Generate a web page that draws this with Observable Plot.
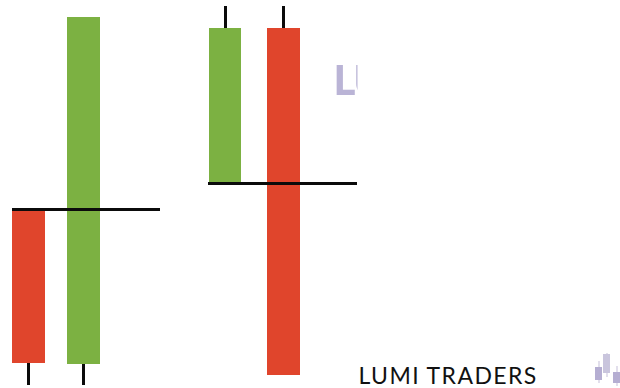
<!DOCTYPE html>
<html><head><meta charset="utf-8">
<script src="https://cdn.jsdelivr.net/npm/d3@7"></script>
<script src="https://cdn.jsdelivr.net/npm/@observablehq/plot@0.6"></script>
<style>html,body{margin:0;padding:0;background:#fff}svg{display:block}</style>
</head><body><div id="c"></div>
<script>
const green = "#7cb142", red = "#e0452c", ink = "#0b0b0b", faint = "#bab4d6";
// candle bodies (x position units; price = height from the bottom of the frame)
const bodyX1 = [12, 67, 209, 267];
const bodyX2 = [45, 100, 241, 300];
const bodyLow = [25, 24, 206, 13];
const bodyHigh = [179, 371, 360, 360];
const bodyColor = [red, green, green, red];
// wicks
const wickX = [28, 83, 225, 283];
const wickLow = [3, 3, 360, 360];
const wickHigh = [25, 24, 382, 382];
// reference lines
const levelX1 = [12, 208];
const levelX2 = [160, 357];
const level = [179, 205];
// small logo candles
const logoX1 = [595, 603, 613];
const logoX2 = [602, 610, 620];
const logoLow = [8, 15, 5];
const logoHigh = [21, 34, 16];
const logoWickX = [598.5, 606.5, 616.5];
const logoWickLow = [5, 11, 2];
const logoWickHigh = [27, 35, 22];
const logoColor = ["#b5aed2", "#c9c5dd", "#b5aed2"];

const idx = a => a.map((_, i) => i);
const soft = "blur(0.7px)";
const chart = Plot.plot({
  width: 620, height: 388, margin: 0,
  x: {domain: [0, 620], axis: null},
  y: {domain: [0, 388], axis: null},
  style: {background: "#fff"},
  marks: [
    Plot.text(["LU"], {x: [332.5], y: [306.5], text: d => d, textAnchor: "start", lineAnchor: "middle",
      fontFamily: "Open Sans", fontWeight: 700, fontSize: 41, fill: faint, imageFilter: soft}),
    Plot.rect([0], {x1: [357.5], x2: [420], y1: [270], y2: [340], fill: "#fff"}),
    Plot.ruleX(idx(wickX), {x: i => wickX[i], y1: i => wickLow[i], y2: i => wickHigh[i], stroke: ink, strokeWidth: 3, imageFilter: soft}),
    Plot.rect(idx(bodyX1), {x1: i => bodyX1[i], x2: i => bodyX2[i], y1: i => bodyLow[i], y2: i => bodyHigh[i], fill: i => bodyColor[i], imageFilter: soft}),
    Plot.ruleY(idx(level), {y: i => level[i], x1: i => levelX1[i], x2: i => levelX2[i], stroke: ink, strokeWidth: 3, imageFilter: soft}),
    Plot.ruleX(idx(logoWickX), {x: i => logoWickX[i], y1: i => logoWickLow[i], y2: i => logoWickHigh[i], stroke: "#d8d5e6", strokeWidth: 1.5, imageFilter: soft}),
    Plot.rect(idx(logoX1), {x1: i => logoX1[i], x2: i => logoX2[i], y1: i => logoLow[i], y2: i => logoHigh[i], fill: i => logoColor[i], imageFilter: soft}),
    Plot.text(["LUMI TRADERS"], {x: [358], y: [12], text: d => d, textAnchor: "start", lineAnchor: "middle",
      fontFamily: "Lato", fontSize: 23, fill: "#111"})
  ]
});
d3.select(chart).selectAll("text").each(function () {
  const t = this.textContent;
  if (t === "LU") this.style.letterSpacing = "-3.5px";
  if (t === "LUMI TRADERS") this.style.letterSpacing = "1.4px";
});
document.getElementById("c").append(chart);
</script></body></html>
